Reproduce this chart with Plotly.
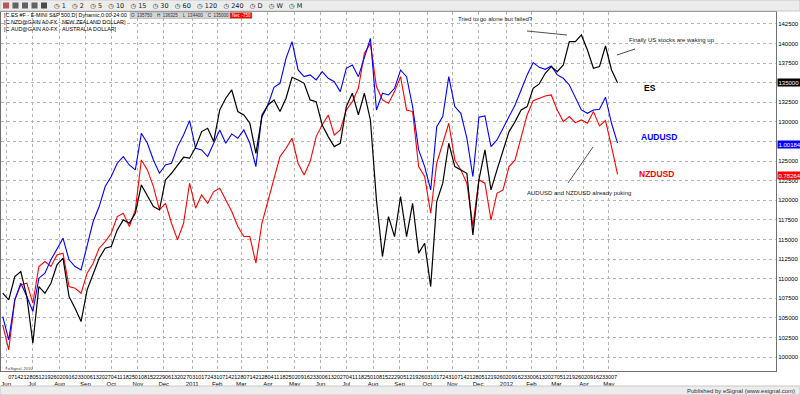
import pandas as pd
import plotly.graph_objects as go

# ---------------- data (weekly readings, scaled to the chart's price axis) ----------------
dates = pd.date_range("2010-05-28", periods=103, freq="7D")

es_values = [108140,107290,110270,110910,107720,101770,108990,108140,109420,111760,
             112610,107720,106230,104530,108570,110700,112610,113880,114100,116220,
             117500,117070,118350,121960,120480,119200,118770,122600,123450,124510,
             125490,125370,126770,128770,129190,127490,131530,133020,134080,131320,
             130890,129830,126000,130680,132170,132810,131320,133020,135700,135360,
             134930,132810,132590,129620,128130,126850,127280,131960,133660,130890,
             133660,130250,120050,112820,117920,115370,120480,115370,119620,113250,
             114520,108990,119840,122180,127280,124300,123880,123450,115590,122600,
             126430,121330,123880,126430,128770,130040,131530,131960,134290,134850,
             136210,137060,136420,137270,140250,140250,141100,139180,136850,137060,
             139690,136630,135000]

audusd_values = [105170,102190,107290,109420,107720,105810,110060,110700,112400,113880,
                 115160,112400,111550,111120,114100,117290,119200,121750,123030,124730,
                 125580,124510,123880,128550,127280,125150,123450,124510,124730,126850,
                 128340,130170,126640,126430,125580,127280,128980,127280,128470,127920,
                 128980,127280,124300,130890,132170,134420,134930,138120,140250,136630,
                 135780,136000,135360,136420,135570,135140,133870,136850,137270,135780,
                 138330,140670,131530,133660,133440,134290,136630,135780,131960,126430,
                 124300,121330,129400,130680,135780,131960,131100,127920,123030,130590,
                 130760,126850,127700,129190,130680,132170,134080,136000,137570,136970,
                 136720,137140,136000,135570,134720,133150,131530,131100,131530,131620,
                 133150,129830,127300]

nzdusd_values = [104100,100920,107290,109210,109420,106870,111550,112180,111550,113030,
                 113250,108990,108780,108140,110700,111970,113880,114730,115800,117920,
                 118350,116650,118770,125150,123880,121750,118770,119620,117070,114950,
                 117070,122180,118990,120690,119620,121110,121540,120050,118560,116650,
                 115370,115370,111970,117070,119840,122810,125580,126640,127920,124730,
                 123240,124940,128130,129620,130890,128340,128980,131530,132590,134290,
                 138760,140030,134510,132810,132380,133870,135780,131530,131320,124300,
                 123030,118350,124730,127280,129830,125150,123880,122180,116730,122600,
                 122180,117500,120900,121330,124300,125150,127920,130890,132720,132980,
                 133320,133440,131530,130040,130680,129910,130250,129830,131320,129490,
                 130170,126850,123300]

y_tick_values = list(range(100000, 142501, 2500))
# 135000 and 127500 are covered by the last-value boxes, as in the original
y_tick_labels = ["" if v in (135000, 127500) else str(v) for v in y_tick_values]

month_tick_dates = ["2010-06-01","2010-07-01","2010-08-02","2010-09-01","2010-10-01","2010-11-01",
                    "2010-12-01","2011-01-03","2011-02-01","2011-03-01","2011-04-01","2011-05-02",
                    "2011-06-01","2011-07-01","2011-08-01","2011-09-01","2011-10-03","2011-11-01",
                    "2011-12-01","2012-01-03","2012-02-01","2012-03-01","2012-04-02","2012-05-01"]
month_tick_labels = ["Jun","Jul","Aug","Sep","Oct","Nov","Dec","2011","Feb","Mar","Apr","May",
                     "Jun","Jul","Aug","Sep","Oct","Nov","Dec","2012","Feb","Mar","Apr","May"]

day_tick_dates = pd.date_range("2010-06-07", "2012-05-07", freq="W-MON")
day_tick_labels = [d.strftime("%d") for d in day_tick_dates]

# ---------------- figure ----------------
W, H = 800, 395
PL, PR, PT, PB = 1, 776, 12, 371
def px(x): return (x - PL) / (PR - PL)
def py(y): return (PB - y) / (PB - PT)

FONT = "Liberation Sans, Arial, sans-serif"

fig = go.Figure()
fig.add_trace(go.Scatter(x=dates, y=nzdusd_values, mode="lines", line=dict(color="#ff0000", width=1.1), name="NZDUSD"))
fig.add_trace(go.Scatter(x=dates, y=audusd_values, mode="lines", line=dict(color="#0000ff", width=1.1), name="AUDUSD"))
fig.add_trace(go.Scatter(x=dates, y=es_values, mode="lines", line=dict(color="#000000", width=1.2), name="ES"))

xrange = ["2010-05-26", "2012-11-11"]
fig.update_layout(
    width=W, height=H,
    margin=dict(l=PL, r=W - PR, t=PT, b=H - PB),
    paper_bgcolor="white", plot_bgcolor="white",
    showlegend=False,
    font=dict(family=FONT, size=6, color="black"),
    xaxis=dict(type="date", range=xrange, tickmode="array",
               tickvals=list(day_tick_dates), ticktext=day_tick_labels,
               tickangle=0, tickfont=dict(size=5.5, family=FONT), ticks="",
               showgrid=False, zeroline=False, showline=True, linecolor="#707070",
               linewidth=1, mirror=True),
    xaxis2=dict(type="date", range=xrange, overlaying="x", anchor="y", side="bottom",
                tickmode="array", tickvals=month_tick_dates, ticktext=month_tick_labels,
                tickangle=0, tickfont=dict(size=6, family=FONT), ticks="",
                ticklabelstandoff=8,
                showgrid=True, gridcolor="#b4b4b4", griddash="dot", gridwidth=1,
                zeroline=False, showline=False),
    yaxis=dict(side="right", range=[98214, 144030], tickmode="array",
               tickvals=y_tick_values, ticktext=y_tick_labels,
               tickfont=dict(size=6, family=FONT), ticks="",
               showgrid=True, gridcolor="#b4b4b4", griddash="dot", gridwidth=1,
               zeroline=False, showline=True, linecolor="#707070", linewidth=1, mirror=True),
)
# dummy trace so xaxis2 is rendered
fig.add_trace(go.Scatter(x=[dates[0]], y=[None], xaxis="x2", showlegend=False, hoverinfo="skip"))

shapes = []
ann = []

# top toolbar
shapes.append(dict(type="rect", xref="paper", yref="paper", x0=px(0), x1=px(800), y0=py(0), y1=py(11),
                   fillcolor="#ececec", line=dict(color="#c8c8c8", width=1), layer="above"))
for i, c in enumerate(["#b03030", "#404040", "#404040", "#404040", "#202020"]):
    shapes.append(dict(type="rect", xref="paper", yref="paper", x0=px(3 + i * 9.5), x1=px(9 + i * 9.5),
                       y0=py(2.5), y1=py(8.5), fillcolor=c, line=dict(width=0), layer="above", opacity=0.8))
ann.append(dict(xref="paper", yref="paper", x=px(52), y=py(5.5), xanchor="left", yanchor="middle",
                text="◷ 1   ◷ 2   ◷ 5   ◷ 10   ◷ 15   ◷ 30   ◷ 60   ◷ 120   ◷ 240   ◷ D   ◷ W   ◷ M",
                showarrow=False, font=dict(size=6.5, color="#202020", family="DejaVu Sans")))

# legend lines
legend_lines = ["[C.ES #F - E-MINI S&P 500,D] Dynamic,0:00-24:00",
                "[C.NZD@GAIN A0-FX - NEW ZEALAND DOLLAR]",
                "[C.AUD@GAIN A0-FX - AUSTRALIA DOLLAR]"]
for k, t in enumerate(legend_lines):
    ann.append(dict(xref="paper", yref="paper", x=px(2), y=py(15.5 + k * 6.6), xanchor="left", yanchor="middle",
                    text=t, showarrow=False, font=dict(size=5.4, color="black", family=FONT)))

# OHLC box
shapes.append(dict(type="rect", xref="paper", yref="paper", x0=px(130), x1=px(230), y0=py(12.5), y1=py(18.5),
                   fillcolor="#d4d4d4", line=dict(color="#a0a0a0", width=0.5), layer="above"))
shapes.append(dict(type="rect", xref="paper", yref="paper", x0=px(230), x1=px(252), y0=py(12.5), y1=py(18.5),
                   fillcolor="#ff0000", line=dict(color="#a0a0a0", width=0.5), layer="above"))
ann.append(dict(xref="paper", yref="paper", x=px(180), y=py(15.5), xanchor="center", yanchor="middle",
                text="O  135750    H  136325    L  134400    C  135000", showarrow=False,
                font=dict(size=4.5, color="#303030", family=FONT)))
ann.append(dict(xref="paper", yref="paper", x=px(241), y=py(15.5), xanchor="center", yanchor="middle",
                text="Net: -750", showarrow=False, font=dict(size=4.5, color="white", family=FONT)))

# right axis highlighted values
for yy, txt, bg in [(82.5, "135000", "#000000"), (144, "1.00184", "#0000ff"), (175, "0.78264", "#ff0000")]:
    ann.append(dict(xref="paper", yref="paper", x=px(777), y=py(yy), xanchor="left", yanchor="middle",
                    text=txt, showarrow=False, bgcolor=bg, borderpad=0.5,
                    font=dict(size=6, color="white", family=FONT)))

# series labels
for (xx, yy, txt, col) in [(650, 88, "ES", "#000000"), (659, 137, "AUDUSD", "#0000ff"), (656, 174, "NZDUSD", "#ff0000")]:
    ann.append(dict(xref="paper", yref="paper", x=px(xx), y=py(yy), xanchor="center", yanchor="middle",
                    text="<b>" + txt + "</b>", showarrow=False, font=dict(size=8.5, color=col, family=FONT)))

# comments and pointer lines
ann.append(dict(xref="paper", yref="paper", x=px(495), y=py(19), xanchor="center", yanchor="middle",
                text="Tried to go alone but failed?", showarrow=False, font=dict(size=6, color="#202020", family=FONT)))
ann.append(dict(xref="paper", yref="paper", x=px(627), y=py(40), xanchor="left", yanchor="middle",
                text="Finally US stocks are waking up", showarrow=False, font=dict(size=6, color="#202020", family=FONT)))
ann.append(dict(xref="paper", yref="paper", x=px(579), y=py(193), xanchor="center", yanchor="middle",
                text="AUDUSD and NZDUSD already puking", showarrow=False, font=dict(size=6, color="#202020", family=FONT)))
for (x0, y0, x1, y1) in [(527, 31, 567, 35), (617, 55, 635, 49), (568, 183, 593, 147)]:
    shapes.append(dict(type="line", xref="paper", yref="paper", x0=px(x0), y0=py(y0), x1=px(x1), y1=py(y1),
                       line=dict(color="#505050", width=1)))

ann.append(dict(xref="paper", yref="paper", x=px(3), y=py(368), xanchor="left", yanchor="middle",
                text="©eSignal, 2010", showarrow=False, font=dict(size=4, color="#404040", family=FONT)))

# bottom status bar
shapes.append(dict(type="rect", xref="paper", yref="paper", x0=px(0), x1=px(800), y0=py(386), y1=py(395),
                   fillcolor="#ececec", line=dict(color="#c8c8c8", width=1), layer="above"))
ann.append(dict(xref="paper", yref="paper", x=px(797), y=py(390.5), xanchor="right", yanchor="middle",
                text="Published by eSignal (www.esignal.com)", showarrow=False,
                font=dict(size=6, color="#303030", family=FONT)))

fig.update_layout(shapes=shapes, annotations=ann)
fig.write_html("out.html", config={"displayModeBar": False},
               post_script="document.body.style.margin='0';document.body.style.padding='0';")
